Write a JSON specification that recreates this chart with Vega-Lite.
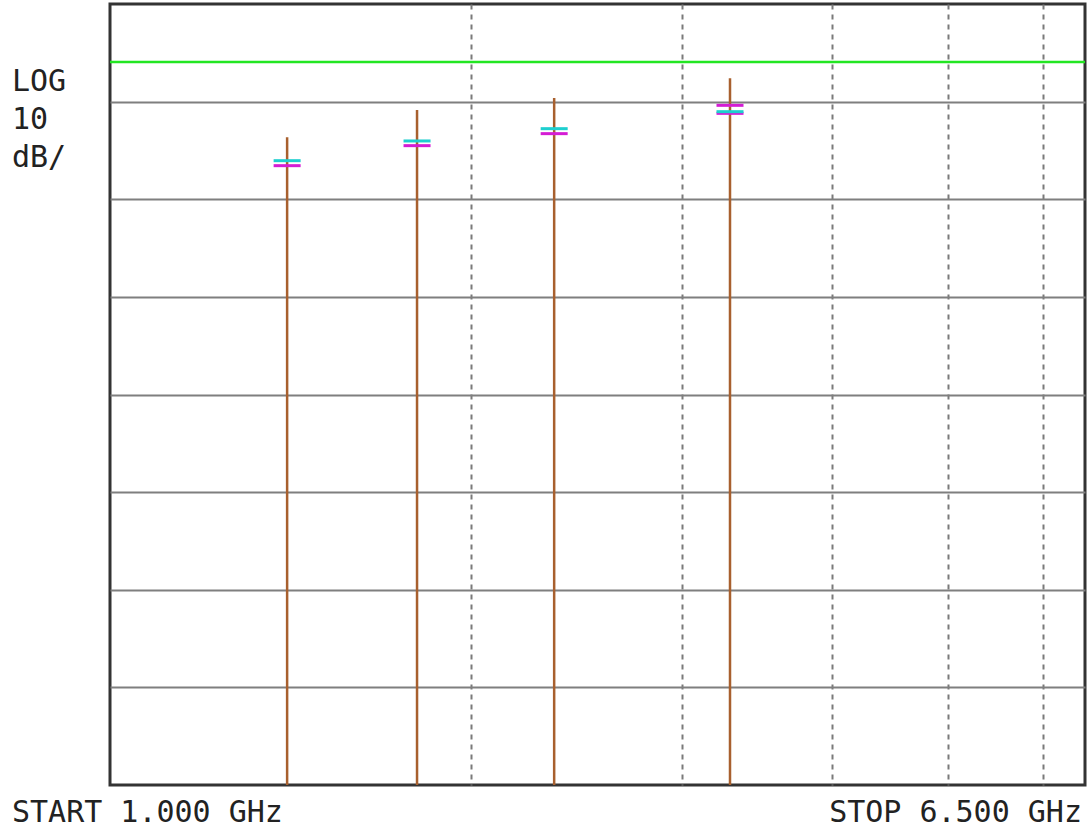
{
  "$schema": "https://vega.github.io/schema/vega-lite/v6.json",
  "autosize": {"type": "none"},
  "width": 975,
  "height": 781,
  "padding": {"left": 110, "top": 4, "right": 2, "bottom": 44},
  "background": "white",
  "config": {
    "view": {"stroke": "#333333", "strokeWidth": 3},
    "font": "DejaVu Sans Mono"
  },
  "datasets": {
    "ref": [{"level": -5.94}],
    "stems": [
      {"freq": 1.405, "top": -13.65, "bottom": -80},
      {"freq": 1.803, "top": -10.86, "bottom": -80},
      {"freq": 2.346, "top": -9.63, "bottom": -80},
      {"freq": 3.288, "top": -7.61, "bottom": -80}
    ],
    "magenta": [
      {"freq": 1.405, "level": -16.56},
      {"freq": 1.803, "level": -14.51},
      {"freq": 2.346, "level": -13.28},
      {"freq": 3.288, "level": -10.38},
      {"freq": 3.288, "level": -11.2}
    ],
    "cyan": [
      {"freq": 1.405, "level": -16.05},
      {"freq": 1.803, "level": -14.03},
      {"freq": 2.346, "level": -12.77},
      {"freq": 3.288, "level": -11.03}
    ],
    "start": [{"freq": 1.0, "level": -80, "label": "START 1.000 GHz"}],
    "stop": [{"freq": 6.5, "level": -80, "label": "STOP 6.500 GHz"}],
    "scale": [{"freq": 1.0, "level": 0, "label": "LOG\n10\ndB/"}]
  },
  "layer": [
    {
      "data": {"name": "stems"},
      "mark": {"type": "rule", "opacity": 0},
      "encoding": {
        "x": {
          "field": "freq", "type": "quantitative",
          "scale": {"type": "log", "domain": [1, 6.5], "nice": false},
          "axis": {
            "values": [2, 3, 4, 5, 6],
            "grid": true, "gridColor": "#7a7a7a", "gridWidth": 2, "gridDash": [5, 5], "gridOpacity": 1,
            "labels": false, "ticks": false, "domain": false, "title": null
          }
        },
        "y": {
          "field": "top", "type": "quantitative",
          "scale": {"domain": [-80, 0], "nice": false, "zero": false},
          "axis": {
            "values": [-70, -60, -50, -40, -30, -20, -10],
            "grid": true, "gridColor": "#7f7f7f", "gridWidth": 2, "gridOpacity": 1,
            "labels": false, "ticks": false, "domain": false, "title": null
          }
        }
      }
    },
    {
      "data": {"name": "ref"},
      "mark": {"type": "rule", "color": "#22e622", "strokeWidth": 2.5},
      "encoding": {"y": {"field": "level", "type": "quantitative"}}
    },
    {
      "data": {"name": "stems"},
      "mark": {"type": "rule", "color": "#a8602e", "strokeWidth": 2.5},
      "encoding": {
        "x": {"field": "freq", "type": "quantitative"},
        "y": {"field": "bottom", "type": "quantitative"},
        "y2": {"field": "top"}
      }
    },
    {
      "data": {"name": "magenta"},
      "mark": {"type": "tick", "orient": "horizontal", "color": "#d41cd4", "size": 27, "thickness": 3, "opacity": 1},
      "encoding": {
        "x": {"field": "freq", "type": "quantitative"},
        "y": {"field": "level", "type": "quantitative"}
      }
    },
    {
      "data": {"name": "cyan"},
      "mark": {"type": "tick", "orient": "horizontal", "color": "#1ecfcf", "size": 27, "thickness": 3, "opacity": 1},
      "encoding": {
        "x": {"field": "freq", "type": "quantitative"},
        "y": {"field": "level", "type": "quantitative"}
      }
    },
    {
      "data": {"name": "start"},
      "mark": {"type": "text", "fontSize": 30, "color": "#222222", "baseline": "alphabetic", "align": "left", "dx": -98, "dy": 37},
      "encoding": {
        "x": {"field": "freq", "type": "quantitative"},
        "y": {"field": "level", "type": "quantitative"},
        "text": {"field": "label"}
      }
    },
    {
      "data": {"name": "stop"},
      "mark": {"type": "text", "fontSize": 30, "color": "#222222", "baseline": "alphabetic", "align": "right", "dx": -3, "dy": 37},
      "encoding": {
        "x": {"field": "freq", "type": "quantitative"},
        "y": {"field": "level", "type": "quantitative"},
        "text": {"field": "label"}
      }
    },
    {
      "data": {"name": "scale"},
      "mark": {"type": "text", "fontSize": 30, "color": "#222222", "baseline": "alphabetic", "align": "left", "dx": -98, "dy": 87, "lineBreak": "\n", "lineHeight": 38},
      "encoding": {
        "x": {"field": "freq", "type": "quantitative"},
        "y": {"field": "level", "type": "quantitative"},
        "text": {"field": "label"}
      }
    }
  ]
}
